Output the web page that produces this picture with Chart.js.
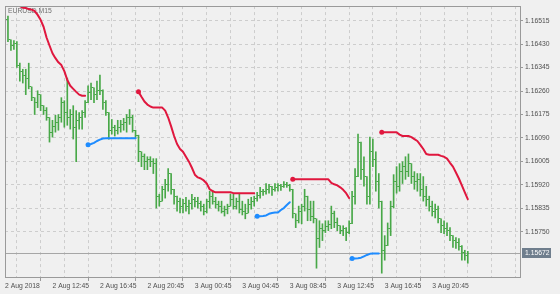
<!DOCTYPE html>
<html>
<head>
<meta charset="utf-8">
<script src="https://cdn.jsdelivr.net/npm/chart.js@4.4.1/dist/chart.umd.min.js"></script>
<style>
  html, body { margin: 0; padding: 0; background: #f0f0f0; }
  canvas { display: block; }
</style>
</head>
<body>
<canvas id="chart" width="560" height="294"></canvas>
<script>
// M15 bars counted from 2 Aug 2018 08:45 (index 0); first drawn bar is 09:00
const firstBar = 1;
const symbolTitle = 'EURUSD,M15';
const lastPrice = 1.15672;
const timeLabels = ['2 Aug 2018', '2 Aug 12:45', '2 Aug 16:45', '2 Aug 20:45', '3 Aug 00:45',
    '3 Aug 04:45', '3 Aug 08:45', '3 Aug 12:45', '3 Aug 16:45', '3 Aug 20:45'];
const priceLevels = [1.16515, 1.16430, 1.16345, 1.16260, 1.16175, 1.16090, 1.16005, 1.15920, 1.15835, 1.15750];

const opens = [
    1.16521, 1.16446, 1.16425, 1.16432, 1.16354, 1.16332, 1.16318, 1.16307, 1.16275, 1.16236,
    1.16218, 1.16247, 1.16207, 1.16189, 1.16164, 1.16111, 1.16132, 1.16147, 1.16164, 1.16218,
    1.16182, 1.16164, 1.16175, 1.16129, 1.16154, 1.16164, 1.16182, 1.16218, 1.16254, 1.16272,
    1.16247, 1.16261, 1.16261, 1.16218, 1.16182, 1.16118, 1.16129, 1.16118, 1.16129, 1.16139,
    1.16147, 1.16164, 1.16164, 1.16118, 1.16100, 1.16040, 1.16022, 1.16004, 1.16011, 1.16004,
    1.15997, 1.15879, 1.15861, 1.15904, 1.15922, 1.15961, 1.15904, 1.15879, 1.15861, 1.15843,
    1.15854, 1.15843, 1.15854, 1.15868, 1.15861, 1.15854, 1.15843, 1.15825, 1.15861, 1.15879,
    1.15861, 1.15850, 1.15843, 1.15825, 1.15832, 1.15843, 1.15868, 1.15843, 1.15861, 1.15832,
    1.15825, 1.15818, 1.15850, 1.15861, 1.15872, 1.15882, 1.15897, 1.15897, 1.15904, 1.15915,
    1.15904, 1.15911, 1.15918, 1.15915, 1.15922, 1.15918, 1.15904, 1.15815, 1.15790, 1.15825,
    1.15843, 1.15879, 1.15832, 1.15807, 1.15797, 1.15725, 1.15761, 1.15754, 1.15768, 1.15775,
    1.15818, 1.15782, 1.15772, 1.15754, 1.15761, 1.15747, 1.15779, 1.15879, 1.15950, 1.16075,
    1.15975, 1.15950, 1.15879, 1.16040, 1.16011, 1.15932, 1.15861, 1.15683, 1.15700, 1.15761,
    1.15843, 1.15932, 1.15915, 1.15968, 1.15986, 1.15968, 1.15997, 1.15950, 1.15932, 1.15940,
    1.15904, 1.15879, 1.15868, 1.15843, 1.15825, 1.15832, 1.15797, 1.15772, 1.15761, 1.15754,
    1.15736, 1.15718, 1.15711, 1.15697, 1.15675, 1.15665
];
const highs = [
    1.16532, 1.16446, 1.16443, 1.16439, 1.16361, 1.16339, 1.16339, 1.16361, 1.16275, 1.16236,
    1.16261, 1.16247, 1.16207, 1.16200, 1.16164, 1.16154, 1.16172, 1.16175, 1.16236, 1.16225,
    1.16307, 1.16193, 1.16207, 1.16189, 1.16182, 1.16189, 1.16225, 1.16279, 1.16289, 1.16272,
    1.16296, 1.16318, 1.16264, 1.16225, 1.16182, 1.16157, 1.16136, 1.16154, 1.16154, 1.16161,
    1.16175, 1.16193, 1.16172, 1.16118, 1.16100, 1.16040, 1.16032, 1.16022, 1.16022, 1.16015,
    1.16015, 1.15886, 1.15915, 1.15940, 1.15979, 1.15961, 1.15904, 1.15879, 1.15872, 1.15868,
    1.15875, 1.15865, 1.15886, 1.15875, 1.15875, 1.15861, 1.15850, 1.15868, 1.15897, 1.15900,
    1.15875, 1.15861, 1.15861, 1.15843, 1.15850, 1.15886, 1.15886, 1.15872, 1.15886, 1.15861,
    1.15850, 1.15868, 1.15875, 1.15879, 1.15893, 1.15911, 1.15904, 1.15925, 1.15922, 1.15915,
    1.15925, 1.15925, 1.15922, 1.15932, 1.15929, 1.15922, 1.15904, 1.15815, 1.15843, 1.15850,
    1.15904, 1.15879, 1.15861, 1.15861, 1.15797, 1.15790, 1.15779, 1.15790, 1.15790, 1.15843,
    1.15825, 1.15800, 1.15772, 1.15772, 1.15765, 1.15790, 1.15897, 1.15979, 1.16104, 1.16075,
    1.16022, 1.15950, 1.16093, 1.16086, 1.16040, 1.15961, 1.15861, 1.15736, 1.15782, 1.15861,
    1.15957, 1.15986, 1.15997, 1.16004, 1.16022, 1.16032, 1.15997, 1.15968, 1.15961, 1.15961,
    1.15950, 1.15915, 1.15879, 1.15861, 1.15850, 1.15843, 1.15797, 1.15790, 1.15782, 1.15765,
    1.15736, 1.15729, 1.15725, 1.15700, 1.15683, 1.15679
];
const lows = [
    1.16439, 1.16407, 1.16411, 1.16346, 1.16296, 1.16289, 1.16247, 1.16268, 1.16225, 1.16175,
    1.16200, 1.16189, 1.16175, 1.16154, 1.16075, 1.16093, 1.16111, 1.16118, 1.16147, 1.16129,
    1.16136, 1.16122, 1.16086, 1.16004, 1.16122, 1.16122, 1.16164, 1.16218, 1.16229, 1.16218,
    1.16229, 1.16247, 1.16193, 1.16172, 1.16086, 1.16104, 1.16097, 1.16104, 1.16111, 1.16118,
    1.16111, 1.16139, 1.16111, 1.16089, 1.16004, 1.15986, 1.15975, 1.15975, 1.15986, 1.15961,
    1.15836, 1.15843, 1.15861, 1.15872, 1.15897, 1.15886, 1.15850, 1.15825, 1.15818, 1.15818,
    1.15825, 1.15815, 1.15832, 1.15840, 1.15836, 1.15825, 1.15811, 1.15818, 1.15836, 1.15850,
    1.15836, 1.15825, 1.15818, 1.15807, 1.15815, 1.15843, 1.15832, 1.15832, 1.15818, 1.15811,
    1.15797, 1.15818, 1.15832, 1.15843, 1.15861, 1.15872, 1.15882, 1.15886, 1.15890, 1.15882,
    1.15897, 1.15897, 1.15900, 1.15911, 1.15911, 1.15897, 1.15800, 1.15765, 1.15782, 1.15779,
    1.15825, 1.15790, 1.15790, 1.15782, 1.15618, 1.15693, 1.15718, 1.15747, 1.15754, 1.15761,
    1.15765, 1.15754, 1.15743, 1.15736, 1.15718, 1.15743, 1.15779, 1.15850, 1.15950, 1.15940,
    1.15915, 1.15850, 1.15850, 1.15986, 1.15897, 1.15836, 1.15600, 1.15647, 1.15700, 1.15736,
    1.15836, 1.15890, 1.15897, 1.15925, 1.15940, 1.15950, 1.15925, 1.15904, 1.15897, 1.15879,
    1.15861, 1.15843, 1.15825, 1.15807, 1.15800, 1.15782, 1.15747, 1.15743, 1.15736, 1.15718,
    1.15693, 1.15690, 1.15683, 1.15647, 1.15647, 1.15636
];
const closes = [
    1.16446, 1.16425, 1.16432, 1.16354, 1.16332, 1.16318, 1.16307, 1.16275, 1.16236, 1.16218,
    1.16247, 1.16207, 1.16189, 1.16164, 1.16111, 1.16132, 1.16147, 1.16164, 1.16218, 1.16182,
    1.16164, 1.16175, 1.16129, 1.16154, 1.16164, 1.16182, 1.16218, 1.16254, 1.16272, 1.16247,
    1.16261, 1.16261, 1.16218, 1.16182, 1.16118, 1.16129, 1.16118, 1.16129, 1.16139, 1.16147,
    1.16164, 1.16164, 1.16118, 1.16100, 1.16040, 1.16022, 1.16004, 1.16011, 1.16004, 1.15997,
    1.15879, 1.15861, 1.15904, 1.15922, 1.15961, 1.15904, 1.15879, 1.15861, 1.15843, 1.15854,
    1.15843, 1.15854, 1.15868, 1.15861, 1.15854, 1.15843, 1.15825, 1.15861, 1.15879, 1.15861,
    1.15850, 1.15843, 1.15825, 1.15832, 1.15843, 1.15868, 1.15843, 1.15861, 1.15832, 1.15825,
    1.15818, 1.15850, 1.15861, 1.15872, 1.15882, 1.15897, 1.15897, 1.15904, 1.15915, 1.15904,
    1.15911, 1.15918, 1.15915, 1.15922, 1.15918, 1.15904, 1.15815, 1.15790, 1.15825, 1.15843,
    1.15879, 1.15832, 1.15807, 1.15797, 1.15725, 1.15761, 1.15754, 1.15768, 1.15775, 1.15818,
    1.15782, 1.15772, 1.15754, 1.15761, 1.15747, 1.15779, 1.15879, 1.15950, 1.16075, 1.15975,
    1.15950, 1.15879, 1.16040, 1.16011, 1.15932, 1.15861, 1.15683, 1.15700, 1.15761, 1.15843,
    1.15932, 1.15915, 1.15968, 1.15986, 1.15968, 1.15997, 1.15950, 1.15932, 1.15940, 1.15904,
    1.15879, 1.15868, 1.15843, 1.15825, 1.15832, 1.15797, 1.15772, 1.15761, 1.15754, 1.15736,
    1.15718, 1.15711, 1.15697, 1.15675, 1.15665, 1.15672
];

// trailing stop segments: bar index where each starts, then one value per bar
const stopDown1Start = 5;
const stopDown1 = [1.16568, 1.16562, 1.16561, 1.16557, 1.16555, 1.16550, 1.16536, 1.16518, 1.16493, 1.16454,
    1.16425, 1.16397, 1.16379, 1.16364, 1.16354, 1.16332, 1.16300, 1.16279, 1.16268, 1.16257,
    1.16247, 1.16243, 1.16243];
const stopDown2Start = 45;
const stopDown2 = [1.16257, 1.16239, 1.16222, 1.16211, 1.16204, 1.16200, 1.16200, 1.16200, 1.16200, 1.16189,
    1.16164, 1.16132, 1.16097, 1.16068, 1.16050, 1.16040, 1.16022, 1.16004, 1.15982, 1.15957,
    1.15947, 1.15943, 1.15936, 1.15925, 1.15904, 1.15897, 1.15893, 1.15893, 1.15893, 1.15893,
    1.15893, 1.15893, 1.15890, 1.15890, 1.15890, 1.15890, 1.15890, 1.15890, 1.15890, 1.15890];
const stopDown3Start = 97;
const stopDown3 = [1.15940, 1.15940, 1.15940, 1.15940, 1.15940, 1.15940, 1.15940, 1.15940, 1.15940, 1.15940,
    1.15940, 1.15940, 1.15940, 1.15927, 1.15922, 1.15918, 1.15911, 1.15902, 1.15890, 1.15872];
const stopDown4Start = 127;
const stopDown4 = [1.16111, 1.16111, 1.16111, 1.16111, 1.16111, 1.16111, 1.16102, 1.16097, 1.16097, 1.16097,
    1.16093, 1.16086, 1.16079, 1.16065, 1.16050, 1.16032, 1.16029, 1.16029, 1.16029, 1.16029,
    1.16025, 1.16022, 1.16015, 1.16000, 1.15986, 1.15965, 1.15943, 1.15918, 1.15893, 1.15868];
const stopUp1Start = 28;
const stopUp1 = [1.16065, 1.16068, 1.16072, 1.16079, 1.16084, 1.16088, 1.16089, 1.16089, 1.16089, 1.16089,
    1.16089, 1.16089, 1.16089, 1.16089, 1.16089, 1.16089, 1.16089];
const stopUp2Start = 85;
const stopUp2 = [1.15806, 1.15806, 1.15807, 1.15809, 1.15815, 1.15818, 1.15820, 1.15820, 1.15829, 1.15836,
    1.15847, 1.15857];
const stopUp3Start = 117;
const stopUp3 = [1.15653, 1.15653, 1.15654, 1.15656, 1.15661, 1.15666, 1.15670, 1.15671, 1.15671, 1.15671];

const BG = '#f0f0f0';
const GRID = '#cdcdcd';
const FRAME = '#9a9a9a';
const TEXT = '#505050';
const BAR = '#48a848';
const RED = '#e0173e';
const BLUE = '#1e8cff';
const FONT = { family: '"Liberation Sans", Arial, sans-serif', size: 6.8 };

function tickImage(side) {
    const c = document.createElement('canvas');
    c.width = 3; c.height = 1;
    const g = c.getContext('2d');
    g.fillStyle = BAR;
    g.fillRect(side === 'left' ? 0 : 2, 0, 1, 1);
    return c;
}
function points(start, values) {
    return values.map(function (v, k) { return { x: start + k, y: v }; });
}
function stopLine(start, values, color, dot) {
    return {
        type: 'line', data: points(start, values), borderColor: color, borderWidth: 2,
        tension: 0, borderJoinStyle: 'round', borderCapStyle: 'round',
        pointRadius: function (c) { return dot && c.dataIndex === 0 ? 2.5 : 0; },
        pointBackgroundColor: color, pointBorderWidth: 0, order: 1
    };
}

const gridSteps = [];
for (let v = 0; v <= 168; v += 8) gridSteps.push(v);

const decor = {
    id: 'decor',
    beforeDraw(chart) {
        const ctx = chart.ctx;
        ctx.save();
        ctx.fillStyle = BG;
        ctx.fillRect(0, 0, chart.width, chart.height);
        ctx.restore();
    },
    beforeDatasetsDraw(chart) {
        const ctx = chart.ctx, a = chart.chartArea;
        const y = Math.round(chart.scales.y.getPixelForValue(lastPrice)) + 0.5;
        ctx.save();
        ctx.strokeStyle = '#a6a6a6';
        ctx.lineWidth = 1;
        ctx.beginPath();
        ctx.moveTo(a.left, y);
        ctx.lineTo(a.right, y);
        ctx.stroke();
        ctx.fillStyle = '#707070';
        ctx.font = FONT.size + 'px ' + FONT.family;
        ctx.textBaseline = 'alphabetic';
        ctx.fillText(symbolTitle, a.left + 3, a.top + 7);
        ctx.restore();
    },
    afterDraw(chart) {
        const ctx = chart.ctx, a = chart.chartArea;
        const l = Math.round(a.left) + 0.5, r = Math.round(a.right) + 0.5;
        const t = Math.round(a.top) + 0.5, b = Math.round(a.bottom) + 0.5;
        ctx.save();
        ctx.strokeStyle = FRAME;
        ctx.lineWidth = 1;
        ctx.strokeRect(l, t, r - l, b - t);
        const y = chart.scales.y.getPixelForValue(lastPrice);
        ctx.fillStyle = '#6f7e8d';
        ctx.fillRect(r + 1.5, Math.round(y) - 5, 29, 10);
        ctx.fillStyle = '#ffffff';
        ctx.font = FONT.size + 'px ' + FONT.family;
        ctx.textBaseline = 'middle';
        ctx.fillText(lastPrice.toFixed(5), r + 4.5, Math.round(y) + 0.5);
        ctx.restore();
    }
};

new Chart(document.getElementById('chart'), {
    type: 'bar',
    data: {
        datasets: [
            stopLine(stopDown1Start, stopDown1, RED, false),
            stopLine(stopDown2Start, stopDown2, RED, true),
            stopLine(stopDown3Start, stopDown3, RED, true),
            stopLine(stopDown4Start, stopDown4, RED, true),
            stopLine(stopUp1Start, stopUp1, BLUE, true),
            stopLine(stopUp2Start, stopUp2, BLUE, true),
            stopLine(stopUp3Start, stopUp3, BLUE, true),
            {
                type: 'line', data: points(firstBar, opens), showLine: false,
                pointStyle: tickImage('left'), pointRadius: 1, order: 2
            },
            {
                type: 'line', data: points(firstBar, closes), showLine: false,
                pointStyle: tickImage('right'), pointRadius: 1, order: 2
            },
            {
                type: 'bar',
                data: highs.map(function (h, k) { return { x: firstBar + k, y: [lows[k], h] }; }),
                backgroundColor: BAR, borderWidth: 0, barThickness: 1, grouped: false, order: 3
            }
        ]
    },
    options: {
        responsive: false,
        animation: false,
        events: [],
        layout: { padding: { left: 2, top: 2, right: 0, bottom: 0 } },
        plugins: { legend: { display: false }, tooltip: { enabled: false } },
        scales: {
            x: {
                type: 'linear', min: 0, max: 173.6, offset: false,
                grid: {
                    color: GRID, lineWidth: 1, tickLength: 4, tickBorderDash: [],
                    tickColor: function (c) {
                        return c.tick && c.tick.value % 16 === 0 && timeLabels[c.tick.value / 16] ? FRAME : 'rgba(0,0,0,0)';
                    }
                },
                border: { display: false, dash: [3, 3] },
                ticks: {
                    align: 'start', maxRotation: 0, autoSkip: false, padding: 1, color: TEXT, font: FONT,
                    callback: function (v) { return v % 16 === 0 ? (timeLabels[v / 16] || '') : ''; }
                },
                afterBuildTicks: function (s) { s.ticks = gridSteps.map(function (v) { return { value: v }; }); },
                afterFit: function (s) { s.height = 17; }
            },
            y: {
                position: 'right', min: 1.155861, max: 1.165679,
                grid: { color: GRID, lineWidth: 1, tickLength: 3, tickColor: FRAME, tickBorderDash: [] },
                border: { display: false, dash: [3, 3] },
                ticks: {
                    padding: 2, color: TEXT, font: FONT,
                    callback: function (v) { return v.toFixed(5); }
                },
                afterBuildTicks: function (s) { s.ticks = priceLevels.map(function (v) { return { value: v }; }); },
                afterFit: function (s) { s.width = 40; }
            }
        }
    },
    plugins: [decor]
});
</script>
</body>
</html>
